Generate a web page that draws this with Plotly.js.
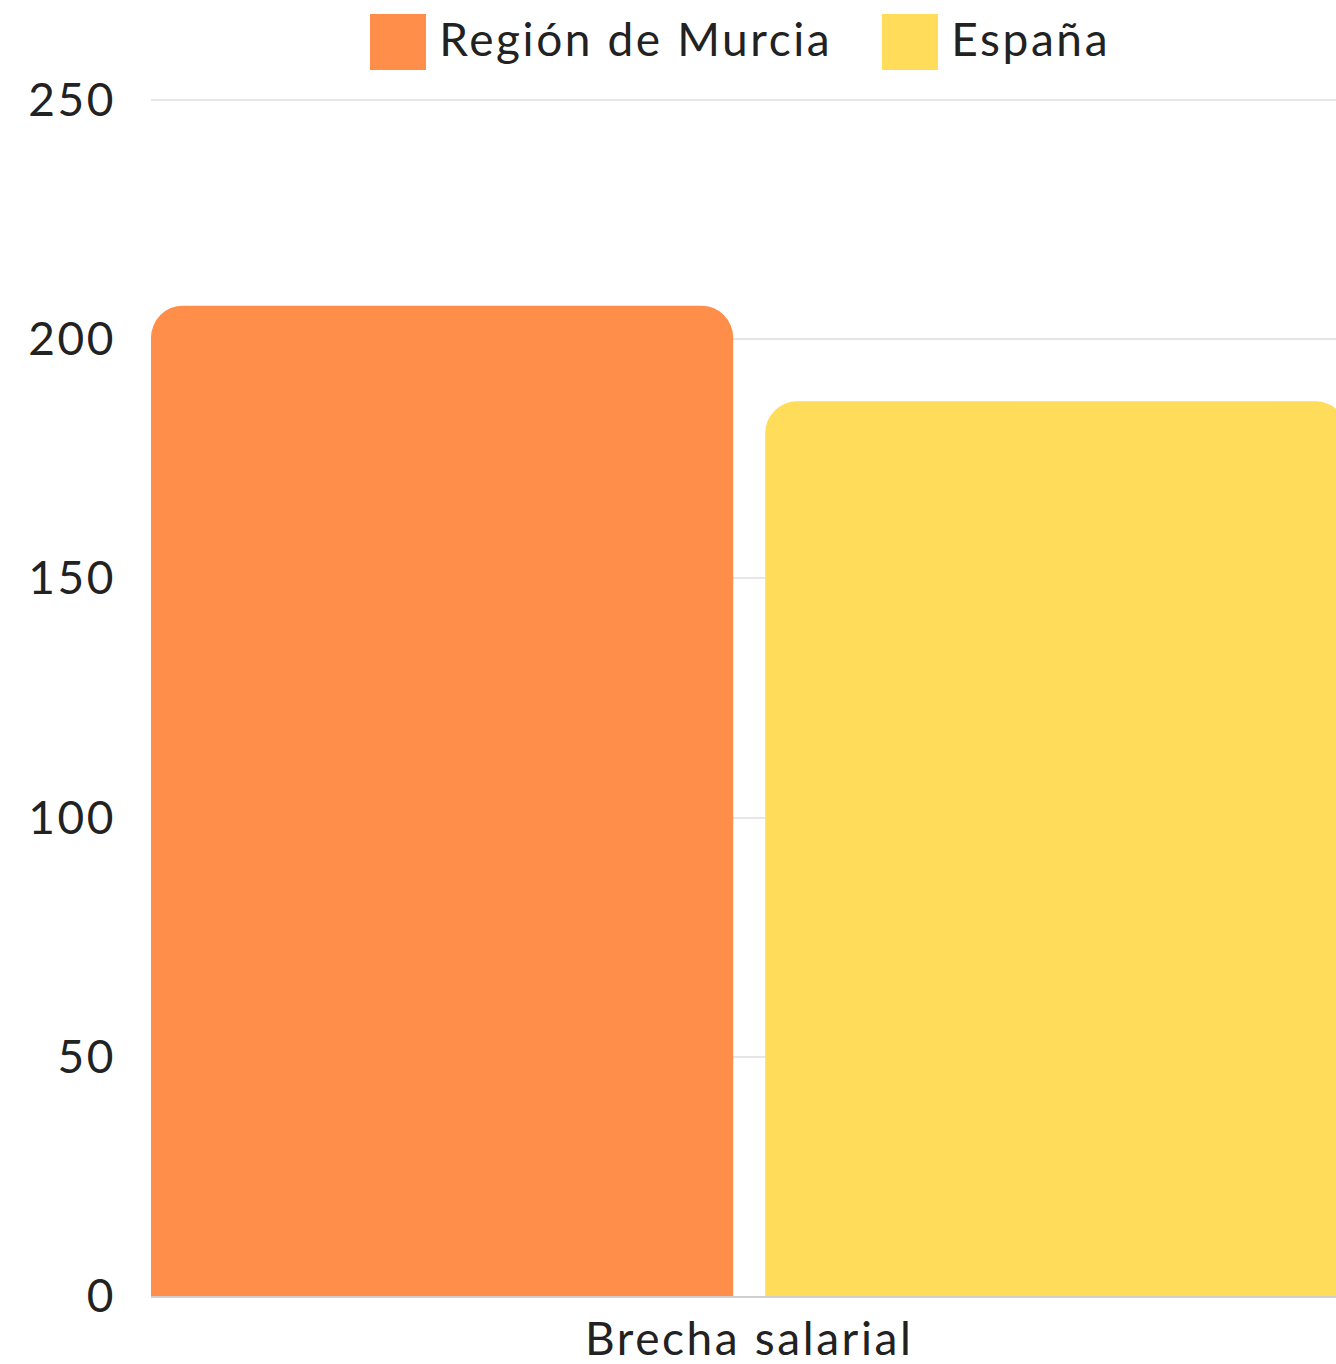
<!DOCTYPE html>
<html>
<head>
<meta charset="utf-8">
<script src="https://cdn.plot.ly/plotly-3.0.1.min.js"></script>
<style>
html,body{margin:0;padding:0;background:#fff;overflow:hidden;}
#chart{width:1336px;height:1364px;}
#chart svg text{letter-spacing:2.6px;}
</style>
</head>
<body>
<div id="chart"></div>
<script>
// Data
const categories = ["Brecha salarial"];
const seriesNames = ["Región de Murcia", "España"];
const murciaValues = [207];
const espanaValues = [187];
const yTickValues = [0, 50, 100, 150, 200, 250];

const colors = ["#FF8E4B", "#FFDC5A"];
const FONT = "Lato, 'Open Sans', sans-serif";

// plot-area geometry (pixels)
const W = 1336, H = 1364;
const mL = 151, mR = 0, mT = 98, mB = 68;
const pw = W - mL - mR, ph = H - mT - mB;
const px2x = p => (p - mL) / pw;
const py2y = p => (H - mB - p) / ph;

const traces = [
  {type: "bar", name: seriesNames[0], x: categories, y: murciaValues,
   marker: {color: colors[0], cornerradius: 32, line: {width: 0}}, showlegend: false, hoverinfo: "y+name"},
  {type: "bar", name: seriesNames[1], x: categories, y: espanaValues,
   marker: {color: colors[1], cornerradius: 32, line: {width: 0}}, showlegend: false, hoverinfo: "y+name"}
];

const g = 0.0521;
const legendItems = [
  {name: seriesNames[0], color: colors[0], box: [370, 426], text: 458},
  {name: seriesNames[1], color: colors[1], box: [882, 938], text: 957}
];
const shapes = legendItems.map(it => ({
  type: "rect", xref: "paper", yref: "paper",
  x0: px2x(it.box[0]), x1: px2x(it.box[1]), y0: py2y(70), y1: py2y(14),
  fillcolor: it.color, line: {width: 0}
}));
const annotations = legendItems.map(it => ({
  xref: "paper", yref: "paper", x: px2x(it.text), y: py2y(39),
  xanchor: "left", yanchor: "middle", showarrow: false, text: it.name,
  font: {family: FONT, size: 46, color: "#222"}
}));

const layout = {
  width: W, height: H,
  margin: {l: mL, r: mR, t: mT, b: mB, pad: 0},
  paper_bgcolor: "#fff", plot_bgcolor: "#fff",
  barmode: "group", bargap: 0, bargroupgap: g,
  showlegend: false,
  font: {family: FONT, size: 46, color: "#222"},
  xaxis: {
    type: "category", range: [-0.5 + 0.25 * g, -0.5 + 0.25 * g + pw / (32 / (0.5 * g))],
    showgrid: false, zeroline: false, showline: true, linecolor: "#d0d0d0", linewidth: 2,
    ticks: "", ticklabelstandoff: 2, tickfont: {family: FONT, size: 46, color: "#222"},
    fixedrange: true
  },
  yaxis: {
    range: [0, 250.4], tickvals: yTickValues, ticktext: yTickValues.map(String),
    showgrid: true, gridcolor: "#e6e6e6", gridwidth: 2, zeroline: false, showline: false,
    ticks: "", ticklabelstandoff: 34, tickfont: {family: FONT, size: 46, color: "#222"},
    fixedrange: true
  },
  shapes: shapes,
  annotations: annotations
};

Plotly.newPlot("chart", traces, layout, {displayModeBar: false, staticPlot: true});
</script>
</body>
</html>
